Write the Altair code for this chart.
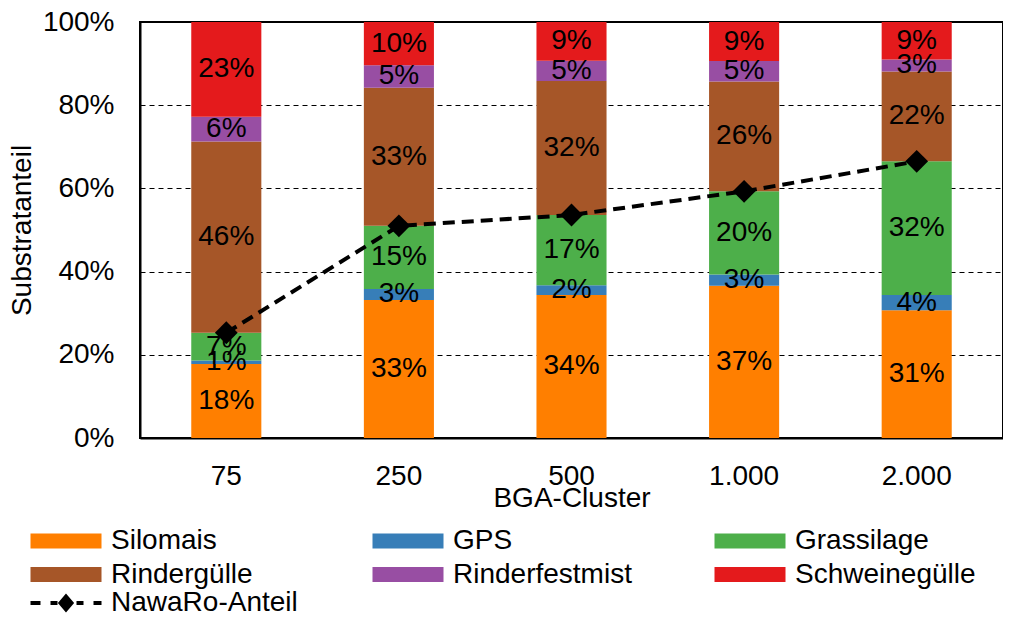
import altair as alt
import pandas as pd

clusters = ["75", "250", "500", "1.000", "2.000"]
substrates = ["Silomais", "GPS", "Grassilage", "Rindergülle", "Rinderfestmist", "Schweinegülle"]
colors = ["#FF7F00", "#377EB8", "#4DAF4A", "#A65628", "#984EA3", "#E41A1C"]

silomais = [17.8, 33.2, 34.4, 36.6, 30.7]
gps = [0.8, 2.6, 2.3, 2.7, 3.7]
grassilage = [6.7, 15.2, 16.9, 20.0, 32.1]
rinderguelle = [46.0, 33.2, 32.2, 26.4, 21.6]
rinderfestmist = [5.9, 5.4, 4.9, 4.9, 2.9]
schweineguelle = [22.8, 10.4, 9.3, 9.4, 9.0]
nawaro = [25.3, 51.0, 53.6, 59.3, 66.5]

series = [silomais, gps, grassilage, rinderguelle, rinderfestmist, schweineguelle]
rows = []
for si, (name, vals) in enumerate(zip(substrates, series)):
    for c, v in zip(clusters, vals):
        rows.append({"Cluster": c, "Substrat": name, "Anteil": v / 100.0, "order": si})
df = pd.DataFrame(rows)
dn = pd.DataFrame({"Cluster": clusters, "NawaRo": [v / 100.0 for v in nawaro],
                   "Serie": ["NawaRo-Anteil"] * len(clusters)})

FONT = "Liberation Sans"
FS = 28
W, H = 863, 416
PL, PT = 141, 23  # target plot origin on page

# legend symbols: a 15px "unit" box, path drawn to the right of it (units of 7.5px)
rect_path = "M-1,-1H8.467V1H-1Z"
nawaro_path = ("M-1,0H0.333M1.667,0H2.6M5.133,0H6.067M7.4,0H8.467"
               "M3.0,0L3.733,-0.867L4.467,0L3.733,0.867Z"
               "M3.35,0L3.733,-0.45L4.117,0L3.733,0.45Z"
               "M3.0,0H4.467M3.733,-0.867V0.867")

xenc = alt.X("Cluster:N", sort=clusters,
             scale=alt.Scale(paddingInner=0.594, paddingOuter=0.297),
             axis=alt.Axis(title="BGA-Cluster", labelAngle=0, ticks=False, labelPadding=24,
                           titlePadding=-6, grid=False, domainColor="black", domainWidth=2))
yscale = alt.Scale(domain=[0, 1], nice=False)

bars = alt.Chart(df).mark_bar().encode(
    x=xenc,
    y=alt.Y("Anteil:Q", stack="zero", scale=yscale,
            axis=alt.Axis(title="Substratanteil", format=".0%", values=[0, 0.2, 0.4, 0.6, 0.8, 1.0],
                          ticks=False, labelPadding=26, titlePadding=6, grid=True,
                          gridColor="black", gridDash=[5, 4], gridWidth=1,
                          domainColor="black", domainWidth=2)),
    color=alt.Color("Substrat:N", scale=alt.Scale(domain=substrates, range=colors),
                    legend=alt.Legend(title=None, orient="none", direction="horizontal",
                                      legendX=25 - PL, legendY=542 - 14 - PT,
                                      columns=3, gridAlign="all", columnPadding=74, rowPadding=5.5,
                                      symbolType=rect_path, symbolSize=225,
                                      symbolStrokeWidth=0, labelFont=FONT, labelFontSize=FS,
                                      labelColor="black", labelOffset=59, labelLimit=400)),
    order=alt.Order("order:Q"),
)

labels = alt.Chart(df).transform_stack(
    stack="Anteil", groupby=["Cluster"], as_=["y0", "y1"], sort=[alt.SortField("order")]
).transform_calculate(mid="(datum.y0 + datum.y1) / 2").mark_text(
    font=FONT, fontSize=FS, color="black", baseline="middle"
).encode(
    x=alt.X("Cluster:N", sort=clusters),
    y=alt.Y("mid:Q", scale=yscale),
    text=alt.Text("Anteil:Q", format=".0%"),
)

line = alt.Chart(dn).mark_line(color="black", strokeWidth=4, strokeDash=[12, 7]).encode(
    x=alt.X("Cluster:N", sort=clusters), y=alt.Y("NawaRo:Q", scale=yscale))
pts = alt.Chart(dn).mark_point(shape="diamond", filled=True, color="black", size=520, opacity=1).encode(
    x=alt.X("Cluster:N", sort=clusters), y=alt.Y("NawaRo:Q", scale=yscale))

leg = alt.Chart(dn).mark_point(filled=False, color="black", strokeWidth=4, opacity=0).encode(
    x=alt.X("Cluster:N", sort=clusters), y=alt.Y("NawaRo:Q", scale=yscale),
    shape=alt.Shape("Serie:N", scale=alt.Scale(domain=["NawaRo-Anteil"], range=[nawaro_path]),
                    legend=alt.Legend(title=None, orient="none",
                                      legendX=25 - PL, legendY=604 - 14 - PT,
                                      symbolSize=225, symbolStrokeColor="black",
                                      symbolStrokeWidth=4, symbolOpacity=1,
                                      labelFont=FONT, labelFontSize=FS, labelColor="black",
                                      labelOffset=59, labelLimit=400)),
)

chart = alt.layer(bars, labels, line, pts, leg).resolve_scale(
    color="independent", shape="independent"
).properties(
    width=W, height=H, padding={"left": 0, "top": 0, "right": 0, "bottom": 0}
).configure_axis(
    labelFont=FONT, labelFontSize=FS, labelColor="black",
    titleFont=FONT, titleFontSize=FS, titleColor="black", titleFontWeight="normal",
).configure_view(stroke="black", strokeWidth=2)

chart.save("out.html", embed_options={"renderer": "svg", "actions": False})
